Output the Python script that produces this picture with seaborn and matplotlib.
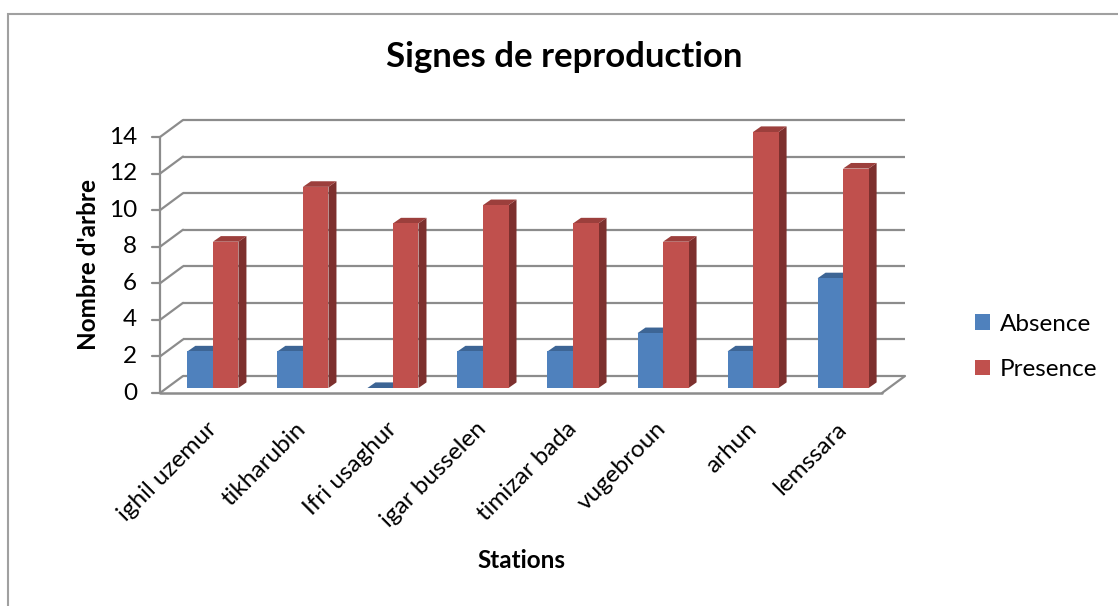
import numpy as np
import pandas as pd
import seaborn as sns
import matplotlib
matplotlib.use("Agg")
import matplotlib.pyplot as plt
from matplotlib.patches import Polygon, Rectangle, Patch
from matplotlib.colors import to_hex

# ---- data ----
stations = ["ighil uzemur", "tikharubin", "Ifri usaghur", "igar busselen",
            "timizar bada", "vugebroun", "arhun", "lemssara"]
absence = [2, 2, 0, 2, 2, 3, 2, 6]
presence = [8, 11, 9, 10, 9, 8, 14, 12]
series = ["Absence", "Presence"]
y_ticks = [0, 2, 4, 6, 8, 10, 12, 14]

front_colors = {"Absence": "#4F81BD", "Presence": "#C0504D"}
top_colors = {"Absence": "#3D6595", "Presence": "#9C3F3C"}
side_colors = {"Absence": "#385D8A", "Presence": "#7D302E"}
grid_color = "#8C8C8C"

df = pd.DataFrame({
    "Station": stations * 2,
    "Serie": [series[0]] * len(stations) + [series[1]] * len(stations),
    "Valeur": absence + presence,
})

sns.set_theme(style="white")
plt.rcParams["font.family"] = ["Lato", "DejaVu Sans"]
plt.rcParams["text.color"] = "black"
plt.rcParams["xtick.color"] = "black"
plt.rcParams["ytick.color"] = "black"

W, H = 1118, 606
fig = plt.figure(figsize=(W / 100, H / 100), dpi=100)
FS = 17.5


def box(l, t, r, b):
    return [l / W, 1 - b / H, (r - l) / W, (b - t) / H]


ax = fig.add_axes(box(167, 132, 889, 388))
sns.barplot(data=df, x="Station", y="Valeur", hue="Serie", order=stations,
            hue_order=series, palette=front_colors, saturation=1, width=0.567,
            linewidth=0, legend=False, ax=ax, zorder=3)
xmin, xmax = -0.51, 7.51
ax.set_xlim(xmin, xmax)
ax.set_ylim(0, 14)
for s in ax.spines.values():
    s.set_visible(False)
ax.set_yticks([])
ax.set_xlabel("")
ax.set_ylabel("")
ax.patch.set_alpha(0)
for bar in ax.patches:
    bar.set_clip_on(False)

# pixel size of one data unit, used to express the 3-D depth offsets
p0, p1 = ax.transData.transform([[0, 0], [1, 1]])
ux, uy = p1 - p0


def shift(px, py):
    return px / ux, py / uy


back = shift(16, 12)
front = shift(-7, -5)
depth = shift(8, 5.6)

# back wall gridlines and left wall diagonals
for v in y_ticks:
    ax.plot([xmin + back[0], xmax + back[0]], [v + back[1], v + back[1]],
            color=grid_color, lw=1.6, clip_on=False, zorder=1,
            solid_capstyle="butt")
    ax.plot([xmin + front[0], xmin + back[0]], [v + front[1], v + back[1]],
            color=grid_color, lw=1.6, clip_on=False, zorder=1)
    # tick marks and labels on the front axis
    ax.plot([xmin + front[0] - 8 / ux, xmin + front[0]],
            [v + front[1], v + front[1]], color=grid_color, lw=1.6,
            clip_on=False, zorder=1)
    ax.text(xmin + front[0] - 23 / ux, v + front[1], str(v), ha="right",
            va="center", fontsize=FS, color="black")

# front axis line, floor front edge and floor right edge
ax.plot([xmin + front[0]] * 2, [front[1], 14 + front[1]], color=grid_color,
        lw=1.6, clip_on=False, zorder=1)
ax.plot([xmin + front[0], xmax + front[0]], [front[1]] * 2, color=grid_color,
        lw=1.8, clip_on=False, zorder=1)
ax.plot([xmax + front[0], xmax + back[0]], [front[1], back[1]],
        color=grid_color, lw=1.6, clip_on=False, zorder=1)

# depth faces (top and side) for every bar
color_to_series = {to_hex(c): k for k, c in front_colors.items()}
for bar in list(ax.patches):
    name = color_to_series.get(to_hex(bar.get_facecolor()))
    if name is None:
        continue
    x0 = bar.get_x()
    x1 = x0 + bar.get_width()
    h = bar.get_height()
    dx, dy = depth
    top = Polygon([(x0, h), (x1, h), (x1 + dx, h + dy), (x0 + dx, h + dy)],
                  closed=True, fc=top_colors[name], ec="none", zorder=2,
                  clip_on=False)
    side = Polygon([(x1, 0), (x1 + dx, dy), (x1 + dx, h + dy), (x1, h)],
                   closed=True, fc=side_colors[name], ec="none", zorder=2,
                   clip_on=False)
    ax.add_patch(side)
    ax.add_patch(top)

# category labels
ax.set_xticks(range(len(stations)))
ax.set_xticklabels(stations, rotation=45, ha="right", va="center",
                   rotation_mode="anchor", fontsize=FS)
ax.tick_params(axis="x", length=0, pad=27)

# texts
fig.text(564 / W, 1 - 57 / H, "Signes de reproduction", ha="center",
         va="center", fontsize=25, fontweight="bold")
fig.text(88 / W, 1 - 265 / H, "Nombre d'arbre", ha="center", va="center",
         rotation=90, fontsize=FS, fontweight="bold")
fig.text(521 / W, 1 - 561 / H, "Stations", ha="center", va="center",
         fontsize=FS, fontweight="bold")

handles = [Patch(fc=front_colors[s], ec="none") for s in series]
fig.legend(handles, series, loc="center left",
           bbox_to_anchor=(975 / W, 1 - 347 / H), frameon=False, fontsize=FS,
           handlelength=0.62, handleheight=0.62, handletextpad=0.4,
           labelspacing=1.0, borderpad=0, borderaxespad=0)

# chart area border
fig.patches.append(Rectangle((7.5 / W, -0.1), 1.2, 1.1 - 13.5 / H,
                             transform=fig.transFigure, fill=False,
                             ec="#A0A0A0", lw=1.5))

fig.savefig("out.png", dpi=100)
